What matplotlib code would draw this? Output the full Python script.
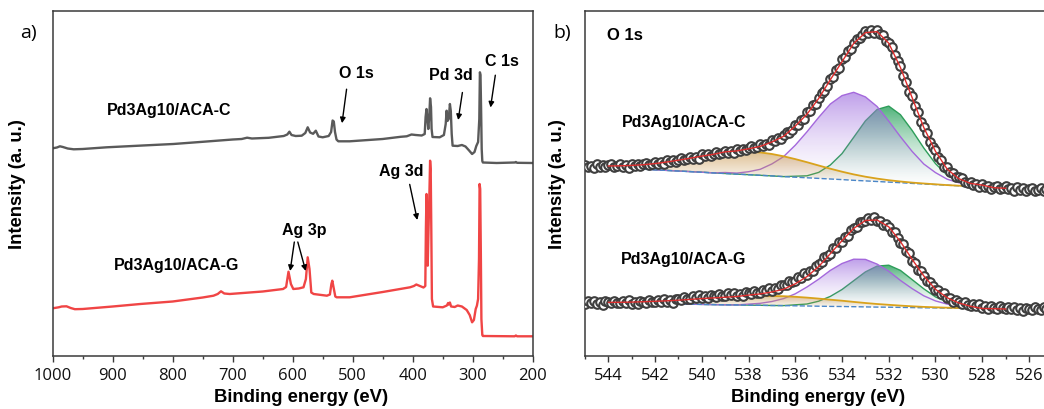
import numpy as np
import matplotlib
matplotlib.use('Agg')
import matplotlib.pyplot as plt
from matplotlib.ticker import MultipleLocator

# ---------------- (a) survey spectra: binding energy (eV) / intensity (a.u.) ----------------
survey_E_C = [1000, 993, 988, 983, 975, 965, 950, 910, 850, 799, 750, 700, 685, 676, 668, 640, 615, 609, 605.5, 602, 595, 585, 579, 575, 571, 566, 561.5, 557, 550, 540, 536, 533.5, 531.5, 529.5, 527, 524, 505, 450, 420, 410, 402, 395, 385, 380, 378.5, 377, 375.5, 374, 372.5, 371, 369.5, 368.5, 367, 355, 348, 345, 343.5, 342, 340, 338, 336.5, 335, 333.5, 325, 318, 312, 306, 301, 297, 294, 291, 289, 288, 287, 286, 285, 284, 283, 260, 230, 228, 226, 200]
survey_I_C = [207.4, 208.2, 209.4, 208.7, 207.2, 206.4, 206.7, 208.4, 210.2, 211.7, 213.9, 216.2, 216.7, 218.0, 217.2, 217.9, 219.7, 221.2, 224.0, 220.7, 219.7, 220.0, 222.7, 228.4, 223.2, 221.9, 225.0, 219.2, 218.4, 219.7, 223.7, 235.2, 234.2, 223.7, 216.2, 214.4, 214.4, 216.7, 218.9, 219.4, 221.2, 220.7, 220.2, 221.7, 238.7, 246.7, 236.7, 226.7, 238.7, 257.4, 248.7, 226.7, 218.7, 218.4, 220.7, 231.7, 245.0, 234.7, 236.7, 251.7, 244.7, 221.7, 210.0, 209.7, 210.7, 209.2, 205.2, 201.7, 203.7, 209.7, 213.7, 236.7, 283.4, 280.7, 246.7, 206.7, 194.7, 193.2, 192.7, 193.2, 193.7, 192.9, 192.7]
survey_E_G = [1000, 990, 985, 977, 970, 963, 950, 900, 854, 800, 750, 732, 725, 719.5, 714, 705, 650, 616, 611, 607, 603, 599, 590, 582, 578, 575, 572, 569, 565, 543, 538, 535.5, 534, 532, 529, 526.7, 505, 450, 404.5, 398, 394, 390, 382, 379, 378, 377, 376, 375, 374, 372, 371, 370, 369, 368, 366, 350, 343, 341, 340, 338, 336, 330, 325, 318, 310, 305, 301, 298, 295, 293, 291, 289.5, 288.5, 287.5, 286.5, 285.5, 284, 283, 230, 228, 226, 200]
survey_I_G = [47.4, 48.4, 49.2, 49.4, 47.7, 46.5, 46.7, 49.2, 51.7, 54.2, 58.2, 60.0, 61.7, 64.4, 62.2, 61.7, 64.2, 66.7, 68.7, 84.0, 71.7, 66.7, 67.2, 68.4, 76.7, 98.4, 86.7, 63.2, 61.7, 60.0, 61.2, 71.7, 75.0, 68.7, 59.2, 58.4, 58.4, 63.7, 68.4, 69.7, 71.2, 70.2, 68.2, 69.7, 126.7, 161.7, 146.7, 90.0, 116.7, 166.7, 195.0, 186.7, 126.7, 56.7, 49.2, 48.4, 50.2, 52.7, 51.2, 53.2, 49.2, 48.7, 50.2, 49.2, 45.7, 40.7, 33.4, 35.7, 46.7, 50.0, 56.7, 96.7, 171.7, 166.7, 106.7, 36.7, 20.7, 19.7, 19.4, 20.2, 19.4, 19.4]

# ---------------- (b) O 1s high-resolution spectra ----------------
o1s_energy = np.linspace(545.0, 525.25, 159)      # measured points, 0.125 eV step
o1s_C = [191, 188.5, 190, 187.5, 191.5, 189, 190.5, 188.5, 190.5, 191.5, 189, 189.5, 191.5, 189, 190.5, 188, 192, 190, 191.5, 189.5,
         191.5, 193, 191, 191.5, 193.5, 191.5, 193.5, 191.5, 196, 193.5, 195.5, 193.5, 196, 197.5, 196, 196.5, 198.5, 196.5, 198.5, 196.5,
         201.5, 199.5, 201.5, 199.5, 202, 203.5, 201.5, 202.5, 205, 203, 205, 203, 207, 205, 207, 205.5, 208, 209.5, 207.5, 209,
         211.5, 210, 212, 211, 216, 215, 217.5, 217, 220.5, 223.5, 223, 226, 231, 231, 235.5, 236.5, 244, 245, 250.5, 252,
         258, 263, 265, 270, 276.5, 279, 285.5, 288, 297, 299, 305, 306.5, 312.5, 317, 318, 320.5, 324.5, 323, 325.5, 322.5,
         326, 321.5, 321, 315, 313, 308.5, 300.5, 294.5, 290, 280, 274, 263.5, 259.5, 250, 244, 234, 228.5, 223, 214, 209,
         205.5, 198.5, 195.5, 189, 189, 184, 183, 178.5, 178.5, 178, 174, 173, 173.5, 170.5, 171.5, 168.5, 172, 169, 170, 167,
         168.5, 169.5, 167, 167.5, 169.5, 166.5, 167.5, 165, 169, 166, 167.5, 165, 167, 168, 165, 165.5, 167.5, 165, 166.5]
o1s_G = [52, 54.5, 52.5, 55, 51.5, 53.5, 51, 54.5, 53.5, 52.5, 55, 53, 52.5, 55, 53, 55.5, 52, 54, 52, 55,
         54, 53, 55.5, 54, 53.5, 56, 54, 56.5, 53.5, 55.5, 53, 57, 56.5, 55.5, 58.5, 57, 57, 59.5, 57.5, 60.5,
         57.5, 60, 57.5, 60.5, 60, 59, 62, 60, 59.5, 62.5, 60.5, 63, 60, 62, 60, 63.5, 63, 62, 65, 63,
         63, 66, 65, 68, 65, 68, 66.5, 70.5, 70.5, 70.5, 74.5, 73.5, 74.5, 78.5, 78, 82.5, 80.5, 84.5, 84.5, 90,
         91.5, 93.5, 99, 99.5, 102, 107.5, 108, 114, 114, 119, 120, 126, 127.5, 129, 134, 133.5, 134.5, 137.5, 136, 138.5,
         134.5, 135, 131, 132, 128.5, 124, 123.5, 117.5, 113, 111.5, 105, 103, 95, 92.5, 86, 85, 80, 75, 74, 69.5,
         66, 66, 62, 62.5, 57.5, 58, 54, 56, 54, 52, 54, 51, 50, 52, 50, 52, 48, 49.5, 46.5, 49.5,
         48, 47, 49.5, 47.5, 47, 49, 47, 49, 45.5, 47.5, 45, 48, 47, 46, 48.5, 46.5, 46, 48.5, 46.5]

fit_energy = np.linspace(544.0, 527.0, 35)        # fitting range, 0.5 eV step
bg_C = [188.4, 187.8, 187.2, 186.5, 185.9, 185.3, 184.7, 184.1, 183.5, 182.8, 182.2, 181.6, 181.0, 180.4, 179.8, 179.1, 178.5, 177.9,
        177.3, 176.7, 176.1, 175.4, 174.8, 174.2, 173.6, 173.0, 172.3, 171.7, 171.1, 170.5, 169.9, 169.3, 168.6, 168.0, 167.4]
peak1_C = [1.3, 2.1, 3.1, 4.5, 6.2, 8.4, 10.8, 13.4, 16.1, 18.6, 20.7, 22.2, 22.9, 22.9, 21.9, 20.3, 18.1, 15.6, 12.9, 10.3,
           7.9, 5.9, 4.2, 2.9, 1.9, 1.2, 0.8, 0.5, 0.3, 0.1, 0.1, 0, 0, 0, 0]
peak2_C = [0, 0, 0, 0, 0, 0, 0, 0, 0, 0, 1, 1, 3, 6, 12, 20, 32, 46, 61, 75, 84, 88, 84, 75, 61, 46, 32, 20, 12, 6,
           3, 1, 1, 0, 0]
peak3_C = [0, 0, 0, 0, 0, 0, 0, 0, 0, 0, 0, 0, 0, 0, 0, 0, 1, 2, 6, 14, 26, 43, 60, 72, 76, 68, 53, 36, 21, 10,
           4, 2, 1, 0, 0]
bg_G = [52.7, 52.5, 52.3, 52.2, 52.0, 51.8, 51.6, 51.5, 51.3, 51.1, 50.9, 50.8, 50.6, 50.4, 50.2, 50.1, 49.9, 49.7,
        49.5, 49.3, 49.2, 49.0, 48.8, 48.6, 48.5, 48.3, 48.1, 47.9, 47.8, 47.6, 47.4, 47.2, 47.1, 46.9, 46.7]
peak1_G = [0.6, 0.9, 1.3, 1.8, 2.4, 3.1, 3.9, 4.8, 5.8, 6.7, 7.6, 8.4, 9.0, 9.4, 9.5, 9.4, 9.0, 8.4, 7.6, 6.7,
           5.8, 4.8, 3.9, 3.1, 2.4, 1.8, 1.3, 0.9, 0.6, 0.4, 0.3, 0.2, 0.1, 0.1, 0]
peak2_G = [0, 0, 0, 0, 0, 0, 0, 0, 0, 0, 0, 0, 1, 2, 4, 7, 12, 19, 27, 36, 43, 47.5, 47.5, 43, 36, 27, 19, 12, 7, 4,
           2, 1, 0, 0, 0]
peak3_G = [0, 0, 0, 0, 0, 0, 0, 0, 0, 0, 0, 0, 0, 0, 0, 0, 1, 2, 5, 10, 17, 26, 35, 41, 42, 37, 28, 19, 11, 6,
           3, 1, 0, 0, 0]

# ---------------- figure ----------------
fig = plt.figure(figsize=(10.44, 4.10), dpi=100)
axL = fig.add_axes([52.7/1044, 53.3/410, 480/1044, 345/410])
axR = fig.add_axes([585/1044, 53.3/410, 467.3/1044, 345/410])

spine_c = '#3a3a3a'
for ax in (axL, axR):
    for s in ax.spines.values():
        s.set_color(spine_c); s.set_linewidth(1.1)
    ax.set_yticks([])
    ax.tick_params(axis='x', which='major', direction='out', length=4, width=1.0, color=spine_c,
                   labelsize=12, pad=4, labelfontfamily='Open Sans', labelcolor='#111111')
    ax.tick_params(axis='x', which='minor', direction='out', length=2.2, width=1.0, color=spine_c)

axL.plot(survey_E_C, survey_I_C, color='#5a5a5a', lw=1.7)
axL.plot(survey_E_G, survey_I_G, color='#f04545', lw=1.7)
axL.set_xlim(1000, 200)
axL.set_ylim(0, 345)
axL.xaxis.set_major_locator(MultipleLocator(100))
axL.xaxis.set_minor_locator(MultipleLocator(50))


def gradient_fill(ax, x, lower, upper, rgb, amax, z, power=1.6):
    x = np.asarray(x, float); lower = np.asarray(lower, float); upper = np.asarray(upper, float)
    poly = ax.fill_between(x, lower, upper, facecolor='none', edgecolor='none')
    ymin, ymax = lower.min(), upper.max()
    img = np.zeros((256, 1, 4))
    img[..., :3] = rgb
    img[..., 3] = (amax * np.linspace(0.0, 1.0, 256) ** power).reshape(-1, 1)
    im = ax.imshow(img, extent=[x.min(), x.max(), ymin, ymax], origin='lower', aspect='auto',
                   zorder=z, interpolation='bilinear')
    im.set_clip_path(poly.get_paths()[0], transform=ax.transData)


fits = [(bg_C, peak1_C, peak2_C, peak3_C), (bg_G, peak1_G, peak2_G, peak3_G)]
for bg, p1, p2, p3 in fits:
    bg = np.asarray(bg); p1 = np.asarray(p1); p2 = np.asarray(p2); p3 = np.asarray(p3)
    gradient_fill(axR, fit_energy, bg, bg + p3, (0.18, 0.64, 0.38), 0.85, 1.0)
    axR.plot(fit_energy, bg + p3, color='#2e9e5a', lw=1.0, zorder=1.05)
    gradient_fill(axR, fit_energy, bg, bg + p2, (0.64, 0.46, 0.88), 0.7, 1.1)
    axR.plot(fit_energy, bg + p2, color='#a468dc', lw=1.0, zorder=1.15)
    gradient_fill(axR, fit_energy, bg, bg + p1, (0.78, 0.58, 0.28), 0.6, 1.2, power=1.2)
    axR.plot(fit_energy, bg, color='#4a86c8', lw=1.0, ls='--', zorder=1.25)
    axR.plot(fit_energy, bg + p1, color='#d9a21c', lw=1.3, zorder=1.3)

for d in (o1s_C, o1s_G):
    axR.plot(o1s_energy, d, ls='none', marker='o', ms=6.2, mew=1.5, mec='#3e3e3e', mfc='white', zorder=3)
for bg, p1, p2, p3 in fits:
    env = np.asarray(bg) + np.asarray(p1) + np.asarray(p2) + np.asarray(p3)
    axR.plot(fit_energy, env, color='#dd2c2c', lw=1.0, zorder=4)
axR.set_xlim(545, 525)
axR.set_ylim(0, 345)
axR.xaxis.set_major_locator(MultipleLocator(2))
axR.xaxis.set_minor_locator(MultipleLocator(1))

lab_font = dict(family='Liberation Sans', weight='bold')
for ax in (axL, axR):
    ax.set_xlabel('Binding energy (eV)', fontsize=13.3, **lab_font)
    ax.set_ylabel('Intensity (a. u.)', fontsize=13.3, **lab_font)
axL.xaxis.set_label_coords(0.518, -0.094)
axR.xaxis.set_label_coords(0.499, -0.094)
axL.yaxis.set_label_coords(-0.056, 0.5)
axR.yaxis.set_label_coords(-0.041, 0.5)

ann = dict(fontsize=11.5, ha='center', va='center', **lab_font)
axL.text(806.7, 246.5, 'Pd3Ag10/ACA-C', **ann)
axL.text(792.8, 90.7, 'Pd3Ag10/ACA-G', **ann)
axL.text(494.5, 282.7, 'O 1s', **ann)
axL.text(336.2, 280.7, 'Pd 3d', **ann)
axL.text(252, 294.9, 'C 1s', **ann)
axL.text(418.7, 185.4, 'Ag 3d', **ann)
axL.text(581.2, 126.2, 'Ag 3p', **ann)
arrows = [((510.2, 266.5), (517.8, 232.5)), ((317.2, 263.2), (324.2, 235.7)), ((262.3, 280.5), (270.3, 248.2)),
          ((405, 171.3), (392.3, 135.7)), ((597.3, 113.7), (604.3, 84.7)), ((591.5, 113.7), (578.3, 84.7))]
for tail_, head_ in arrows:
    axL.annotate('', xy=head_, xytext=tail_, arrowprops=dict(arrowstyle='-|>', color='black', lw=1.0,
                 mutation_scale=8, shrinkA=0, shrinkB=0))

axR.text(543.3, 321.7, 'O 1s', fontsize=12, ha='center', va='center', **lab_font)
axR.text(540.74, 234, 'Pd3Ag10/ACA-C', **ann)
axR.text(540.77, 96.7, 'Pd3Ag10/ACA-G', **ann)

fig.text(28.3/1044, 1 - 33.3/410, 'a)', fontsize=14, family='Open Sans', ha='center', va='center')
fig.text(562.5/1044, 1 - 33.3/410, 'b)', fontsize=14, family='Open Sans', ha='center', va='center')

fig.savefig('out.png', dpi=100)
